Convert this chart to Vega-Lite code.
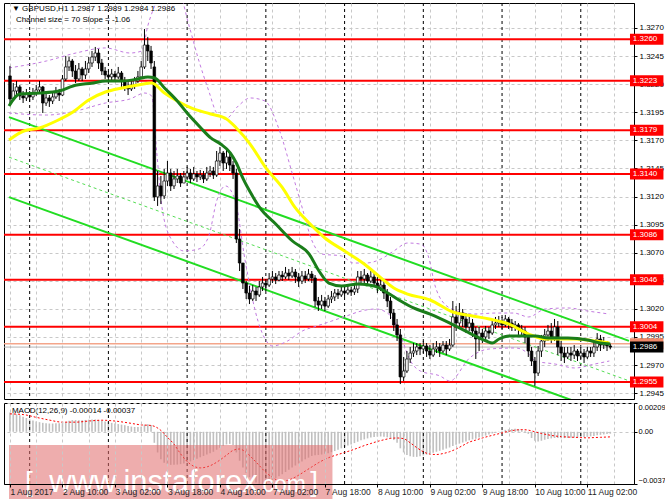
{
"$schema":"https://vega.github.io/schema/vega-lite/v6.json",
"background":"white",
"padding":{"left":2,"top":2,"right":0,"bottom":0},
"spacing":2,
"config":{"view":{"stroke":"black","strokeWidth":1},"font":"Liberation Sans","axis":{"labelFont":"Liberation Sans","labelFontSize":8,"labelColor":"black","domainColor":"black","tickColor":"black","gridColor":"#c8c8c8","gridDash":[3,3],"gridWidth":1}},
"datasets":{
"bars":[
{"i":0,"o":1.32273,"h":1.32362,"l":1.32006,"c":1.32068,"m":0.0014},
{"i":1,"o":1.32068,"h":1.32210,"l":1.32050,"c":1.32139,"m":0.00135},
{"i":2,"o":1.32139,"h":1.32228,"l":1.32095,"c":1.32175,"m":0.00128},
{"i":3,"o":1.32175,"h":1.32192,"l":1.32059,"c":1.32095,"m":0.0012},
{"i":4,"o":1.32095,"h":1.32139,"l":1.32032,"c":1.32077,"m":0.0011},
{"i":5,"o":1.32077,"h":1.32157,"l":1.32050,"c":1.32112,"m":0.001},
{"i":6,"o":1.32112,"h":1.32139,"l":1.32041,"c":1.32086,"m":0.0009},
{"i":7,"o":1.32086,"h":1.32166,"l":1.32059,"c":1.32121,"m":0.00082},
{"i":8,"o":1.32121,"h":1.32192,"l":1.32095,"c":1.32148,"m":0.00075},
{"i":9,"o":1.32148,"h":1.32228,"l":1.32121,"c":1.32175,"m":0.0007},
{"i":10,"o":1.32175,"h":1.32184,"l":1.31943,"c":1.32032,"m":0.00065},
{"i":11,"o":1.32032,"h":1.32139,"l":1.32006,"c":1.32077,"m":0.00062},
{"i":12,"o":1.32077,"h":1.32103,"l":1.31997,"c":1.32050,"m":0.0006},
{"i":13,"o":1.32050,"h":1.32121,"l":1.32023,"c":1.32086,"m":0.0006},
{"i":14,"o":1.32086,"h":1.32175,"l":1.32068,"c":1.32121,"m":0.00062},
{"i":15,"o":1.32121,"h":1.32157,"l":1.32050,"c":1.32103,"m":0.00062},
{"i":16,"o":1.32103,"h":1.32281,"l":1.32095,"c":1.32246,"m":0.00065},
{"i":17,"o":1.32246,"h":1.32451,"l":1.32228,"c":1.32353,"m":0.00072},
{"i":18,"o":1.32353,"h":1.32442,"l":1.32317,"c":1.32406,"m":0.0008},
{"i":19,"o":1.32406,"h":1.32424,"l":1.32264,"c":1.32317,"m":0.00085},
{"i":20,"o":1.32317,"h":1.32370,"l":1.32210,"c":1.32246,"m":0.00085},
{"i":21,"o":1.32246,"h":1.32388,"l":1.32228,"c":1.32335,"m":0.00083},
{"i":22,"o":1.32335,"h":1.32353,"l":1.32228,"c":1.32281,"m":0.00084},
{"i":23,"o":1.32281,"h":1.32406,"l":1.32246,"c":1.32335,"m":0.00086},
{"i":24,"o":1.32335,"h":1.32442,"l":1.32299,"c":1.32388,"m":0.00088},
{"i":25,"o":1.32388,"h":1.32495,"l":1.32353,"c":1.32442,"m":0.0009},
{"i":26,"o":1.32442,"h":1.32531,"l":1.32406,"c":1.32477,"m":0.0009},
{"i":27,"o":1.32477,"h":1.32513,"l":1.32335,"c":1.32388,"m":0.00086},
{"i":28,"o":1.32388,"h":1.32424,"l":1.32281,"c":1.32317,"m":0.0008},
{"i":29,"o":1.32317,"h":1.32353,"l":1.32246,"c":1.32281,"m":0.00075},
{"i":30,"o":1.32281,"h":1.32317,"l":1.32228,"c":1.32264,"m":0.0007},
{"i":31,"o":1.32264,"h":1.32335,"l":1.32237,"c":1.32290,"m":0.00065},
{"i":32,"o":1.32290,"h":1.32317,"l":1.32228,"c":1.32264,"m":0.0006},
{"i":33,"o":1.32264,"h":1.32353,"l":1.32246,"c":1.32299,"m":0.00056},
{"i":34,"o":1.32299,"h":1.32317,"l":1.32175,"c":1.32228,"m":0.00052},
{"i":35,"o":1.32228,"h":1.32264,"l":1.32139,"c":1.32175,"m":0.00048},
{"i":36,"o":1.32175,"h":1.32228,"l":1.32103,"c":1.32157,"m":0.00042},
{"i":37,"o":1.32157,"h":1.32228,"l":1.32139,"c":1.32192,"m":0.00038},
{"i":38,"o":1.32192,"h":1.32264,"l":1.32157,"c":1.32228,"m":0.00035},
{"i":39,"o":1.32228,"h":1.32317,"l":1.32210,"c":1.32264,"m":0.00034},
{"i":40,"o":1.32264,"h":1.32406,"l":1.32246,"c":1.32353,"m":0.00038},
{"i":41,"o":1.32353,"h":1.32691,"l":1.32335,"c":1.32548,"m":0.00052},
{"i":42,"o":1.32548,"h":1.32620,"l":1.32406,"c":1.32495,"m":0.00055},
{"i":43,"o":1.32495,"h":1.32540,"l":1.32335,"c":1.32388,"m":0.0005},
{"i":44,"o":1.32353,"h":1.32406,"l":1.31160,"c":1.31196,"m":-0.0008},
{"i":45,"o":1.31196,"h":1.31427,"l":1.31116,"c":1.31294,"m":-0.0015},
{"i":46,"o":1.31294,"h":1.31383,"l":1.31133,"c":1.31205,"m":-0.002},
{"i":47,"o":1.31205,"h":1.31445,"l":1.31178,"c":1.31338,"m":-0.00225},
{"i":48,"o":1.31338,"h":1.31516,"l":1.31294,"c":1.31409,"m":-0.00235},
{"i":49,"o":1.31409,"h":1.31445,"l":1.31249,"c":1.31294,"m":-0.0024},
{"i":50,"o":1.31294,"h":1.31427,"l":1.31267,"c":1.31356,"m":-0.0024},
{"i":51,"o":1.31356,"h":1.31445,"l":1.31320,"c":1.31383,"m":-0.00238},
{"i":52,"o":1.31383,"h":1.31409,"l":1.31285,"c":1.31320,"m":-0.00235},
{"i":53,"o":1.31320,"h":1.31427,"l":1.31320,"c":1.31374,"m":-0.0023},
{"i":54,"o":1.31374,"h":1.31463,"l":1.31356,"c":1.31409,"m":-0.00222},
{"i":55,"o":1.31409,"h":1.31445,"l":1.31320,"c":1.31356,"m":-0.00215},
{"i":56,"o":1.31356,"h":1.31463,"l":1.31338,"c":1.31400,"m":-0.00205},
{"i":57,"o":1.31400,"h":1.31427,"l":1.31329,"c":1.31374,"m":-0.00195},
{"i":58,"o":1.31374,"h":1.31436,"l":1.31347,"c":1.31391,"m":-0.00185},
{"i":59,"o":1.31391,"h":1.31427,"l":1.31320,"c":1.31356,"m":-0.00175},
{"i":60,"o":1.31356,"h":1.31463,"l":1.31338,"c":1.31409,"m":-0.00165},
{"i":61,"o":1.31409,"h":1.31472,"l":1.31374,"c":1.31427,"m":-0.00155},
{"i":62,"o":1.31427,"h":1.31463,"l":1.31356,"c":1.31391,"m":-0.00145},
{"i":63,"o":1.31391,"h":1.31605,"l":1.31374,"c":1.31516,"m":-0.0013},
{"i":64,"o":1.31516,"h":1.31641,"l":1.31472,"c":1.31587,"m":-0.00115},
{"i":65,"o":1.31587,"h":1.31605,"l":1.31427,"c":1.31498,"m":-0.00102},
{"i":66,"o":1.31498,"h":1.31623,"l":1.31445,"c":1.31552,"m":-0.00092},
{"i":67,"o":1.31552,"h":1.31587,"l":1.31427,"c":1.31480,"m":-0.00088},
{"i":68,"o":1.31480,"h":1.31516,"l":1.31356,"c":1.31409,"m":-0.00095},
{"i":69,"o":1.31409,"h":1.31445,"l":1.30786,"c":1.30822,"m":-0.0015},
{"i":70,"o":1.30822,"h":1.30911,"l":1.30537,"c":1.30608,"m":-0.0021},
{"i":71,"o":1.30608,"h":1.30608,"l":1.30377,"c":1.30430,"m":-0.0026},
{"i":72,"o":1.30430,"h":1.30448,"l":1.30288,"c":1.30341,"m":-0.003},
{"i":73,"o":1.30341,"h":1.30404,"l":1.30243,"c":1.30288,"m":-0.0033},
{"i":74,"o":1.30288,"h":1.30412,"l":1.30270,"c":1.30359,"m":-0.00352},
{"i":75,"o":1.30359,"h":1.30395,"l":1.30270,"c":1.30324,"m":-0.00368},
{"i":76,"o":1.30324,"h":1.30448,"l":1.30306,"c":1.30395,"m":-0.00378},
{"i":77,"o":1.30395,"h":1.30484,"l":1.30359,"c":1.30430,"m":-0.00379},
{"i":78,"o":1.30430,"h":1.30466,"l":1.30359,"c":1.30412,"m":-0.00372},
{"i":79,"o":1.30412,"h":1.30519,"l":1.30395,"c":1.30466,"m":-0.00362},
{"i":80,"o":1.30466,"h":1.30537,"l":1.30430,"c":1.30484,"m":-0.0035},
{"i":81,"o":1.30484,"h":1.30519,"l":1.30421,"c":1.30457,"m":-0.00336},
{"i":82,"o":1.30457,"h":1.30537,"l":1.30448,"c":1.30501,"m":-0.00322},
{"i":83,"o":1.30501,"h":1.30537,"l":1.30448,"c":1.30484,"m":-0.00308},
{"i":84,"o":1.30484,"h":1.30573,"l":1.30466,"c":1.30519,"m":-0.00292},
{"i":85,"o":1.30519,"h":1.30555,"l":1.30457,"c":1.30493,"m":-0.00276},
{"i":86,"o":1.30493,"h":1.30573,"l":1.30475,"c":1.30528,"m":-0.0026},
{"i":87,"o":1.30528,"h":1.30555,"l":1.30430,"c":1.30484,"m":-0.00245},
{"i":88,"o":1.30484,"h":1.30519,"l":1.30395,"c":1.30448,"m":-0.0023},
{"i":89,"o":1.30448,"h":1.30537,"l":1.30421,"c":1.30493,"m":-0.00215},
{"i":90,"o":1.30493,"h":1.30537,"l":1.30430,"c":1.30466,"m":-0.002},
{"i":91,"o":1.30466,"h":1.30555,"l":1.30448,"c":1.30510,"m":-0.00188},
{"i":92,"o":1.30510,"h":1.30537,"l":1.30430,"c":1.30475,"m":-0.00175},
{"i":93,"o":1.30475,"h":1.30501,"l":1.30216,"c":1.30270,"m":-0.0017},
{"i":94,"o":1.30270,"h":1.30306,"l":1.30181,"c":1.30234,"m":-0.00168},
{"i":95,"o":1.30234,"h":1.30324,"l":1.30199,"c":1.30270,"m":-0.00165},
{"i":96,"o":1.30270,"h":1.30306,"l":1.30181,"c":1.30225,"m":-0.0016},
{"i":97,"o":1.30225,"h":1.30324,"l":1.30208,"c":1.30288,"m":-0.00155},
{"i":98,"o":1.30288,"h":1.30359,"l":1.30252,"c":1.30306,"m":-0.00148},
{"i":99,"o":1.30306,"h":1.30377,"l":1.30270,"c":1.30341,"m":-0.0014},
{"i":100,"o":1.30341,"h":1.30377,"l":1.30288,"c":1.30324,"m":-0.0013},
{"i":101,"o":1.30324,"h":1.30395,"l":1.30306,"c":1.30359,"m":-0.0012},
{"i":102,"o":1.30359,"h":1.30395,"l":1.30306,"c":1.30341,"m":-0.0011},
{"i":103,"o":1.30341,"h":1.30412,"l":1.30324,"c":1.30368,"m":-0.001},
{"i":104,"o":1.30368,"h":1.30395,"l":1.30315,"c":1.30350,"m":-0.00092},
{"i":105,"o":1.30350,"h":1.30412,"l":1.30324,"c":1.30377,"m":-0.00082},
{"i":106,"o":1.30377,"h":1.30537,"l":1.30341,"c":1.30484,"m":-0.00072},
{"i":107,"o":1.30484,"h":1.30537,"l":1.30412,"c":1.30466,"m":-0.00062},
{"i":108,"o":1.30466,"h":1.30555,"l":1.30430,"c":1.30501,"m":-0.00055},
{"i":109,"o":1.30501,"h":1.30519,"l":1.30412,"c":1.30448,"m":-0.00048},
{"i":110,"o":1.30448,"h":1.30537,"l":1.30430,"c":1.30484,"m":-0.00042},
{"i":111,"o":1.30484,"h":1.30519,"l":1.30395,"c":1.30430,"m":-0.00038},
{"i":112,"o":1.30430,"h":1.30484,"l":1.30341,"c":1.30395,"m":-0.00035},
{"i":113,"o":1.30395,"h":1.30466,"l":1.30359,"c":1.30412,"m":-0.00034},
{"i":114,"o":1.30412,"h":1.30448,"l":1.30288,"c":1.30341,"m":-0.00036},
{"i":115,"o":1.30341,"h":1.30377,"l":1.30216,"c":1.30270,"m":-0.0004},
{"i":116,"o":1.30270,"h":1.30306,"l":1.30110,"c":1.30163,"m":-0.00048},
{"i":117,"o":1.30163,"h":1.30199,"l":1.30003,"c":1.30057,"m":-0.0006},
{"i":118,"o":1.30057,"h":1.30110,"l":1.29914,"c":1.29968,"m":-0.0008},
{"i":119,"o":1.29968,"h":1.30021,"l":1.29531,"c":1.29594,"m":-0.0012},
{"i":120,"o":1.29594,"h":1.29772,"l":1.29558,"c":1.29647,"m":-0.0015},
{"i":121,"o":1.29647,"h":1.29825,"l":1.29629,"c":1.29754,"m":-0.00168},
{"i":122,"o":1.29754,"h":1.29861,"l":1.29718,"c":1.29807,"m":-0.00178},
{"i":123,"o":1.29807,"h":1.29896,"l":1.29772,"c":1.29825,"m":-0.00182},
{"i":124,"o":1.29825,"h":1.29896,"l":1.29789,"c":1.29861,"m":-0.00182},
{"i":125,"o":1.29861,"h":1.29896,"l":1.29789,"c":1.29843,"m":-0.00178},
{"i":126,"o":1.29843,"h":1.29914,"l":1.29807,"c":1.29870,"m":-0.00172},
{"i":127,"o":1.29870,"h":1.29896,"l":1.29772,"c":1.29825,"m":-0.00166},
{"i":128,"o":1.29825,"h":1.29878,"l":1.29754,"c":1.29789,"m":-0.0016},
{"i":129,"o":1.29789,"h":1.29896,"l":1.29772,"c":1.29843,"m":-0.00152},
{"i":130,"o":1.29843,"h":1.29914,"l":1.29807,"c":1.29861,"m":-0.00145},
{"i":131,"o":1.29861,"h":1.29896,"l":1.29772,"c":1.29825,"m":-0.00138},
{"i":132,"o":1.29825,"h":1.29914,"l":1.29807,"c":1.29878,"m":-0.0013},
{"i":133,"o":1.29878,"h":1.29914,"l":1.29789,"c":1.29843,"m":-0.00122},
{"i":134,"o":1.29843,"h":1.29932,"l":1.29825,"c":1.29878,"m":-0.00114},
{"i":135,"o":1.29878,"h":1.30270,"l":1.29861,"c":1.30128,"m":-0.00104},
{"i":136,"o":1.30128,"h":1.30225,"l":1.30003,"c":1.30074,"m":-0.00094},
{"i":137,"o":1.30074,"h":1.30252,"l":1.30021,"c":1.30163,"m":-0.00086},
{"i":138,"o":1.30163,"h":1.30199,"l":1.30039,"c":1.30110,"m":-0.00078},
{"i":139,"o":1.30110,"h":1.30163,"l":1.29985,"c":1.30039,"m":-0.0007},
{"i":140,"o":1.30039,"h":1.30137,"l":1.30003,"c":1.30074,"m":-0.00062},
{"i":141,"o":1.30074,"h":1.30110,"l":1.29950,"c":1.30003,"m":-0.00055},
{"i":142,"o":1.30003,"h":1.30039,"l":1.29754,"c":1.29932,"m":-0.0005},
{"i":143,"o":1.29932,"h":1.30039,"l":1.29825,"c":1.29985,"m":-0.00042},
{"i":144,"o":1.29985,"h":1.30021,"l":1.29896,"c":1.29950,"m":-0.00035},
{"i":145,"o":1.29950,"h":1.30048,"l":1.29914,"c":1.30003,"m":-0.00028},
{"i":146,"o":1.30003,"h":1.30039,"l":1.29932,"c":1.29985,"m":-0.0002},
{"i":147,"o":1.29985,"h":1.30110,"l":1.29968,"c":1.30057,"m":-0.00012},
{"i":148,"o":1.30057,"h":1.30128,"l":1.30021,"c":1.30074,"m":-0.00005},
{"i":149,"o":1.30074,"h":1.30137,"l":1.30039,"c":1.30092,"m":0.00002},
{"i":150,"o":1.30092,"h":1.30128,"l":1.30021,"c":1.30057,"m":0.00008},
{"i":151,"o":1.30057,"h":1.30146,"l":1.30039,"c":1.30110,"m":0.00014},
{"i":152,"o":1.30110,"h":1.30128,"l":1.30021,"c":1.30074,"m":0.00018},
{"i":153,"o":1.30074,"h":1.30110,"l":1.30003,"c":1.30039,"m":0.0002},
{"i":154,"o":1.30039,"h":1.30092,"l":1.30003,"c":1.30057,"m":0.00022},
{"i":155,"o":1.30057,"h":1.30074,"l":1.29968,"c":1.30021,"m":0.0002},
{"i":156,"o":1.30021,"h":1.30057,"l":1.29950,"c":1.30003,"m":0.00015},
{"i":157,"o":1.30003,"h":1.30039,"l":1.29896,"c":1.29950,"m":0.00008},
{"i":158,"o":1.29950,"h":1.29968,"l":1.29772,"c":1.29825,"m":-0.00015},
{"i":159,"o":1.29825,"h":1.29861,"l":1.29692,"c":1.29736,"m":-0.00045},
{"i":160,"o":1.29736,"h":1.29772,"l":1.29514,"c":1.29629,"m":-0.00065},
{"i":161,"o":1.29629,"h":1.29870,"l":1.29603,"c":1.29825,"m":-0.0007},
{"i":162,"o":1.29825,"h":1.29968,"l":1.29772,"c":1.29914,"m":-0.00065},
{"i":163,"o":1.29914,"h":1.30021,"l":1.29861,"c":1.29968,"m":-0.00058},
{"i":164,"o":1.29968,"h":1.30057,"l":1.29914,"c":1.30003,"m":-0.00052},
{"i":165,"o":1.30003,"h":1.30074,"l":1.29896,"c":1.29950,"m":-0.00048},
{"i":166,"o":1.29950,"h":1.30110,"l":1.29914,"c":1.30039,"m":-0.00045},
{"i":167,"o":1.30039,"h":1.30092,"l":1.29789,"c":1.29861,"m":-0.00045},
{"i":168,"o":1.29861,"h":1.29914,"l":1.29736,"c":1.29807,"m":-0.00046},
{"i":169,"o":1.29807,"h":1.29861,"l":1.29718,"c":1.29772,"m":-0.00046},
{"i":170,"o":1.29772,"h":1.29861,"l":1.29754,"c":1.29807,"m":-0.00045},
{"i":171,"o":1.29807,"h":1.29861,"l":1.29736,"c":1.29789,"m":-0.00044},
{"i":172,"o":1.29789,"h":1.29878,"l":1.29754,"c":1.29825,"m":-0.00042},
{"i":173,"o":1.29825,"h":1.29843,"l":1.29736,"c":1.29781,"m":-0.00041},
{"i":174,"o":1.29781,"h":1.29861,"l":1.29754,"c":1.29807,"m":-0.0004},
{"i":175,"o":1.29807,"h":1.29843,"l":1.29718,"c":1.29772,"m":-0.00038},
{"i":176,"o":1.29772,"h":1.29861,"l":1.29754,"c":1.29825,"m":-0.00036},
{"i":177,"o":1.29825,"h":1.29861,"l":1.29772,"c":1.29807,"m":-0.00033},
{"i":178,"o":1.29807,"h":1.29896,"l":1.29772,"c":1.29861,"m":-0.0003},
{"i":179,"o":1.29861,"h":1.29985,"l":1.29825,"c":1.29932,"m":-0.00026},
{"i":180,"o":1.29932,"h":1.29968,"l":1.29825,"c":1.29878,"m":-0.00022},
{"i":181,"o":1.29878,"h":1.29950,"l":1.29843,"c":1.29896,"m":-0.00019},
{"i":182,"o":1.29896,"h":1.29914,"l":1.29825,"c":1.29870,"m":-0.00016},
{"i":183,"o":1.29870,"h":1.29890,"l":1.29840,"c":1.29860,"m":-0.00014}
],
"sig":[
{"i":0,"s":0.0013},{"i":4,"s":0.00125},{"i":8,"s":0.00105},{"i":12,"s":0.00085},{"i":16,"s":0.0007},{"i":20,"s":0.0007},{"i":24,"s":0.00078},{"i":28,"s":0.00084},{"i":32,"s":0.00078},{"i":36,"s":0.00065},{"i":40,"s":0.0005},{"i":43,"s":0.00046},{"i":46,"s":0.0001},{"i":48,"s":-0.0004},{"i":50,"s":-0.0009},{"i":52,"s":-0.0016},{"i":54,"s":-0.00215},{"i":56,"s":-0.0025},{"i":58,"s":-0.00262},{"i":60,"s":-0.00255},{"i":62,"s":-0.00235},{"i":64,"s":-0.00205},{"i":66,"s":-0.0017},{"i":68,"s":-0.00135},{"i":70,"s":-0.00125},{"i":72,"s":-0.0015},{"i":74,"s":-0.00195},{"i":76,"s":-0.00245},{"i":78,"s":-0.00295},{"i":80,"s":-0.0033},{"i":82,"s":-0.00355},{"i":84,"s":-0.00355},{"i":86,"s":-0.0034},{"i":88,"s":-0.00315},{"i":90,"s":-0.00285},{"i":92,"s":-0.00255},{"i":94,"s":-0.00225},{"i":96,"s":-0.002},{"i":98,"s":-0.0018},{"i":100,"s":-0.00165},{"i":102,"s":-0.0015},{"i":104,"s":-0.00135},{"i":106,"s":-0.00118},{"i":108,"s":-0.001},{"i":110,"s":-0.00085},{"i":112,"s":-0.0007},{"i":114,"s":-0.00058},{"i":116,"s":-0.00048},{"i":118,"s":-0.00045},{"i":120,"s":-0.0005},{"i":122,"s":-0.0008},{"i":124,"s":-0.00115},{"i":126,"s":-0.00145},{"i":128,"s":-0.00162},{"i":130,"s":-0.00165},{"i":132,"s":-0.00158},{"i":134,"s":-0.00145},{"i":136,"s":-0.00125},{"i":138,"s":-0.001},{"i":140,"s":-0.00075},{"i":142,"s":-0.0006},{"i":144,"s":-0.00045},{"i":146,"s":-0.00032},{"i":148,"s":-0.0002},{"i":150,"s":-0.00008},{"i":152,"s":0.00004},{"i":154,"s":0.00012},{"i":156,"s":0.00016},{"i":158,"s":0.00012},{"i":160,"s":0},{"i":162,"s":-0.00012},{"i":164,"s":-0.00022},{"i":166,"s":-0.0003},{"i":168,"s":-0.00035},{"i":170,"s":-0.00038},{"i":172,"s":-0.0004},{"i":174,"s":-0.00042},{"i":176,"s":-0.00044},{"i":178,"s":-0.00042},{"i":180,"s":-0.0004},{"i":182,"s":-0.00038},{"i":183,"s":-0.00037}
],
"ma":[
{"ma":"yellow","i":-0.3,"p":1.31703},{"ma":"yellow","i":4.2,"p":1.31783},{"ma":"yellow","i":9.0,"p":1.31810},{"ma":"yellow","i":14.1,"p":1.31872},{"ma":"yellow","i":19.2,"p":1.31952},{"ma":"yellow","i":24.0,"p":1.32059},{"ma":"yellow","i":29.1,"p":1.32130},{"ma":"yellow","i":34.2,"p":1.32166},{"ma":"yellow","i":39.0,"p":1.32192},{"ma":"yellow","i":43.2,"p":1.32210},{"ma":"yellow","i":47.1,"p":1.32121},{"ma":"yellow","i":51.0,"p":1.32050},{"ma":"yellow","i":55.2,"p":1.31988},{"ma":"yellow","i":61.2,"p":1.31934},{"ma":"yellow","i":66.0,"p":1.31890},{"ma":"yellow","i":69.0,"p":1.31810},{"ma":"yellow","i":73.2,"p":1.31667},{"ma":"yellow","i":78.0,"p":1.31454},{"ma":"yellow","i":83.1,"p":1.31276},{"ma":"yellow","i":87.0,"p":1.31098},{"ma":"yellow","i":91.2,"p":1.30964},{"ma":"yellow","i":96.0,"p":1.30831},{"ma":"yellow","i":102.0,"p":1.30715},{"ma":"yellow","i":108.0,"p":1.30599},{"ma":"yellow","i":113.1,"p":1.30475},{"ma":"yellow","i":117.0,"p":1.30386},{"ma":"yellow","i":121.2,"p":1.30332},{"ma":"yellow","i":128.1,"p":1.30279},{"ma":"yellow","i":135.0,"p":1.30172},{"ma":"yellow","i":141.0,"p":1.30137},{"ma":"yellow","i":146.1,"p":1.30110},{"ma":"yellow","i":152.1,"p":1.30065},{"ma":"yellow","i":158.1,"p":1.29976},{"ma":"yellow","i":163.2,"p":1.29932},{"ma":"yellow","i":172.2,"p":1.29932},{"ma":"yellow","i":178.2,"p":1.29914},{"ma":"yellow","i":182.7,"p":1.29896},
{"ma":"green","i":-0.3,"p":1.32006},{"ma":"green","i":3.0,"p":1.32112},{"ma":"green","i":9.0,"p":1.32121},{"ma":"green","i":15.0,"p":1.32139},{"ma":"green","i":19.2,"p":1.32184},{"ma":"green","i":25.2,"p":1.32210},{"ma":"green","i":29.1,"p":1.32228},{"ma":"green","i":34.2,"p":1.32228},{"ma":"green","i":39.0,"p":1.32246},{"ma":"green","i":42.0,"p":1.32264},{"ma":"green","i":44.1,"p":1.32255},{"ma":"green","i":47.1,"p":1.32166},{"ma":"green","i":51.0,"p":1.32050},{"ma":"green","i":54.0,"p":1.31943},{"ma":"green","i":58.2,"p":1.31810},{"ma":"green","i":61.2,"p":1.31721},{"ma":"green","i":64.2,"p":1.31667},{"ma":"green","i":67.2,"p":1.31587},{"ma":"green","i":69.0,"p":1.31498},{"ma":"green","i":71.1,"p":1.31356},{"ma":"green","i":74.1,"p":1.31196},{"ma":"green","i":76.2,"p":1.31098},{"ma":"green","i":81.0,"p":1.30955},{"ma":"green","i":86.1,"p":1.30804},{"ma":"green","i":91.2,"p":1.30688},{"ma":"green","i":94.2,"p":1.30537},{"ma":"green","i":97.2,"p":1.30430},{"ma":"green","i":101.1,"p":1.30404},{"ma":"green","i":106.2,"p":1.30421},{"ma":"green","i":111.0,"p":1.30404},{"ma":"green","i":115.2,"p":1.30341},{"ma":"green","i":119.1,"p":1.30270},{"ma":"green","i":123.0,"p":1.30208},{"ma":"green","i":128.1,"p":1.30154},{"ma":"green","i":134.1,"p":1.30074},{"ma":"green","i":140.1,"p":1.29985},{"ma":"green","i":145.2,"p":1.29914},{"ma":"green","i":147.0,"p":1.29896},{"ma":"green","i":149.1,"p":1.29932},{"ma":"green","i":152.1,"p":1.29958},{"ma":"green","i":156.0,"p":1.29958},{"ma":"green","i":160.2,"p":1.29958},{"ma":"green","i":164.1,"p":1.29941},{"ma":"green","i":170.1,"p":1.29941},{"ma":"green","i":176.1,"p":1.29923},{"ma":"green","i":180.0,"p":1.29896},{"ma":"green","i":183.0,"p":1.29887}
],
"bands":[
{"b":"upper","i":-0.3,"p":1.32344},{"b":"upper","i":11.1,"p":1.32406},{"b":"upper","i":20.1,"p":1.32477},{"b":"upper","i":29.1,"p":1.32522},{"b":"upper","i":36.6,"p":1.32477},{"b":"upper","i":40.2,"p":1.32495},{"b":"upper","i":42.0,"p":1.32718},{"b":"upper","i":44.1,"p":1.32896},{"b":"upper","i":47.1,"p":1.33074},{"b":"upper","i":50.7,"p":1.33074},{"b":"upper","i":54.6,"p":1.32718},{"b":"upper","i":57.6,"p":1.32406},{"b":"upper","i":60.6,"p":1.32139},{"b":"upper","i":63.0,"p":1.31943},{"b":"upper","i":65.7,"p":1.31890},{"b":"upper","i":69.6,"p":1.32006},{"b":"upper","i":73.2,"p":1.32077},{"b":"upper","i":77.7,"p":1.32050},{"b":"upper","i":82.2,"p":1.31783},{"b":"upper","i":86.1,"p":1.31400},{"b":"upper","i":89.1,"p":1.31098},{"b":"upper","i":92.1,"p":1.30804},{"b":"upper","i":95.1,"p":1.30688},{"b":"upper","i":101.1,"p":1.30671},{"b":"upper","i":104.7,"p":1.30608},{"b":"upper","i":108.6,"p":1.30608},{"b":"upper","i":113.1,"p":1.30644},{"b":"upper","i":117.0,"p":1.30715},{"b":"upper","i":121.2,"p":1.30786},{"b":"upper","i":125.1,"p":1.30777},{"b":"upper","i":127.5,"p":1.30671},{"b":"upper","i":129.6,"p":1.30404},{"b":"upper","i":131.7,"p":1.30270},{"b":"upper","i":136.2,"p":1.30181},{"b":"upper","i":141.6,"p":1.30154},{"b":"upper","i":148.2,"p":1.30163},{"b":"upper","i":153.6,"p":1.30163},{"b":"upper","i":158.1,"p":1.30128},{"b":"upper","i":163.2,"p":1.30199},{"b":"upper","i":170.1,"p":1.30208},{"b":"upper","i":176.1,"p":1.30181},{"b":"upper","i":182.7,"p":1.30154},
{"b":"lower","i":-0.3,"p":1.31943},{"b":"lower","i":11.1,"p":1.31925},{"b":"lower","i":20.1,"p":1.31961},{"b":"lower","i":29.1,"p":1.32032},{"b":"lower","i":36.6,"p":1.32068},{"b":"lower","i":41.1,"p":1.32121},{"b":"lower","i":43.2,"p":1.32095},{"b":"lower","i":44.7,"p":1.31605},{"b":"lower","i":46.5,"p":1.31071},{"b":"lower","i":49.5,"p":1.30804},{"b":"lower","i":53.1,"p":1.30715},{"b":"lower","i":57.6,"p":1.30733},{"b":"lower","i":60.6,"p":1.30848},{"b":"lower","i":63.0,"p":1.31160},{"b":"lower","i":65.7,"p":1.31294},{"b":"lower","i":68.7,"p":1.31160},{"b":"lower","i":71.7,"p":1.30626},{"b":"lower","i":75.6,"p":1.30092},{"b":"lower","i":80.1,"p":1.29870},{"b":"lower","i":84.6,"p":1.29914},{"b":"lower","i":89.1,"p":1.30003},{"b":"lower","i":93.6,"p":1.30048},{"b":"lower","i":98.1,"p":1.30092},{"b":"lower","i":102.6,"p":1.30137},{"b":"lower","i":107.1,"p":1.30181},{"b":"lower","i":111.6,"p":1.30199},{"b":"lower","i":116.1,"p":1.30137},{"b":"lower","i":119.1,"p":1.29959},{"b":"lower","i":122.1,"p":1.29736},{"b":"lower","i":125.1,"p":1.29647},{"b":"lower","i":131.1,"p":1.29603},{"b":"lower","i":134.1,"p":1.29558},{"b":"lower","i":140.1,"p":1.29763},{"b":"lower","i":146.1,"p":1.29843},{"b":"lower","i":154.2,"p":1.29852},{"b":"lower","i":158.1,"p":1.29799},{"b":"lower","i":160.2,"p":1.29736},{"b":"lower","i":166.2,"p":1.29709},{"b":"lower","i":172.2,"p":1.29674},{"b":"lower","i":178.2,"p":1.29709},{"b":"lower","i":182.7,"p":1.29736}
],
"chan":[
{"line":"upper","i":-0.3,"p":1.31906},{"line":"upper","i":188.7,"p":1.29915},
{"line":"lower","i":-0.3,"p":1.31195},{"line":"lower","i":188.7,"p":1.29204},
{"line":"mid","i":-0.3,"p":1.31550},{"line":"mid","i":188.7,"p":1.29560}
],
"levels":[{"p":1.326},{"p":1.3223},{"p":1.3179},{"p":1.314},{"p":1.3086},{"p":1.3046},{"p":1.3004},{"p":1.2955}],
"quote":[{"bid":1.2986,"ask":1.2989}],
"sep":[{"i":6},{"i":30},{"i":54},{"i":78},{"i":102},{"i":126},{"i":150},{"i":174}]
},
"vconcat":[
{
"width":630,"height":396,
"resolve":{"axis":{"x":"independent","y":"independent"}},
"layer":[
{"data":{"name":"bars"},"mark":{"type":"rule","opacity":0},
 "encoding":{"x":{"field":"i","type":"quantitative","scale":{"domain":[-0.3,188.7],"nice":false,"zero":false},"axis":{"orient":"bottom","values":[0,8,16,24,32,40,48,56,64,72,80,88,96,104,112,120,128,136,144,152,160,168,176,184],"grid":true,"labels":false,"ticks":false,"domain":false,"title":null}},
 "y":{"field":"l","type":"quantitative","scale":{"domain":[1.29398,1.32922],"nice":false,"zero":false},"axis":{"orient":"right","values":[1.2945,1.297,1.2995,1.302,1.3045,1.307,1.3095,1.312,1.3145,1.317,1.3195,1.322,1.3245,1.327],"format":".4f","grid":true,"labels":true,"ticks":true,"domain":true,"tickSize":3,"labelPadding":2,"labelOverlap":false,"labelFlush":false,"title":null}},"y2":{"field":"h"}}},
{"data":{"name":"sep"},"mark":{"type":"rule","color":"black","strokeDash":[3,3],"strokeWidth":1},
 "encoding":{"x":{"field":"i","type":"quantitative","scale":{"domain":[-0.3,188.7],"nice":false,"zero":false},"axis":null}}},
{"data":{"name":"levels"},"mark":{"type":"rule","color":"#ff0000","strokeWidth":2},
 "encoding":{"y":{"field":"p","type":"quantitative","scale":{"domain":[1.29398,1.32922],"nice":false,"zero":false},"axis":null}}},
{"data":{"name":"quote"},"mark":{"type":"rule","color":"#f4a58a","strokeWidth":1.5},
 "encoding":{"y":{"field":"ask","type":"quantitative","scale":{"domain":[1.29398,1.32922],"nice":false,"zero":false},"axis":null}}},
{"data":{"name":"quote"},"mark":{"type":"rule","color":"#b4b4b4","strokeWidth":1},
 "encoding":{"y":{"field":"bid","type":"quantitative","scale":{"domain":[1.29398,1.32922],"nice":false,"zero":false},"axis":null}}},
{"data":{"name":"chan"},"transform":[{"filter":"datum.line != 'mid'"}],"mark":{"type":"line","color":"#22dd22","strokeWidth":2,"clip":true},
 "encoding":{"x":{"field":"i","type":"quantitative","scale":{"domain":[-0.3,188.7],"nice":false,"zero":false},"axis":null},"y":{"field":"p","type":"quantitative","scale":{"domain":[1.29398,1.32922],"nice":false,"zero":false},"axis":null},"detail":{"field":"line"}}},
{"data":{"name":"chan"},"transform":[{"filter":"datum.line == 'mid'"}],"mark":{"type":"line","color":"#55dd55","strokeWidth":1,"strokeDash":[3,3],"clip":true},
 "encoding":{"x":{"field":"i","type":"quantitative","scale":{"domain":[-0.3,188.7],"nice":false,"zero":false},"axis":null},"y":{"field":"p","type":"quantitative","scale":{"domain":[1.29398,1.32922],"nice":false,"zero":false},"axis":null}}},
{"data":{"name":"bands"},"mark":{"type":"line","color":"#c27ae0","strokeWidth":1,"strokeDash":[3,3],"interpolate":"monotone","clip":true},
 "encoding":{"x":{"field":"i","type":"quantitative","scale":{"domain":[-0.3,188.7],"nice":false,"zero":false},"axis":null},"y":{"field":"p","type":"quantitative","scale":{"domain":[1.29398,1.32922],"nice":false,"zero":false},"axis":null},"detail":{"field":"b"}}},
{"data":{"name":"bars"},"mark":{"type":"rule","color":"black","strokeWidth":1},
 "encoding":{"x":{"field":"i","type":"quantitative","scale":{"domain":[-0.3,188.7],"nice":false,"zero":false},"axis":null},"y":{"field":"l","type":"quantitative","scale":{"domain":[1.29398,1.32922],"nice":false,"zero":false},"axis":null},"y2":{"field":"h"}}},
{"data":{"name":"bars"},"mark":{"type":"bar","size":2.6,"stroke":"black","strokeWidth":0.7},
 "encoding":{"x":{"field":"i","type":"quantitative","scale":{"domain":[-0.3,188.7],"nice":false,"zero":false},"axis":null},"y":{"field":"o","type":"quantitative","scale":{"domain":[1.29398,1.32922],"nice":false,"zero":false},"axis":null},"y2":{"field":"c"},
 "fill":{"condition":{"test":"datum.c >= datum.o","value":"white"},"value":"black"}}},
{"data":{"name":"ma"},"transform":[{"filter":"datum.ma == 'yellow'"}],"mark":{"type":"line","color":"#ffff00","strokeWidth":3,"interpolate":"monotone"},
 "encoding":{"x":{"field":"i","type":"quantitative","scale":{"domain":[-0.3,188.7],"nice":false,"zero":false},"axis":null},"y":{"field":"p","type":"quantitative","scale":{"domain":[1.29398,1.32922],"nice":false,"zero":false},"axis":null}}},
{"data":{"name":"ma"},"transform":[{"filter":"datum.ma == 'green'"}],"mark":{"type":"line","color":"#1a7d1a","strokeWidth":3,"interpolate":"monotone"},
 "encoding":{"x":{"field":"i","type":"quantitative","scale":{"domain":[-0.3,188.7],"nice":false,"zero":false},"axis":null},"y":{"field":"p","type":"quantitative","scale":{"domain":[1.29398,1.32922],"nice":false,"zero":false},"axis":null}}},
{"data":{"name":"levels"},"mark":{"type":"rule","color":"#ff0000","strokeWidth":11,"strokeCap":"butt"},
 "encoding":{"x":{"datum":189.0,"type":"quantitative","scale":{"domain":[-0.3,188.7],"nice":false,"zero":false},"axis":null},"x2":{"datum":199.2},"y":{"field":"p","type":"quantitative","scale":{"domain":[1.29398,1.32922],"nice":false,"zero":false},"axis":null}}},
{"data":{"name":"levels"},"mark":{"type":"text","color":"white","fontSize":8,"align":"center","baseline":"middle","font":"Liberation Sans"},
 "encoding":{"x":{"datum":193.6,"type":"quantitative","scale":{"domain":[-0.3,188.7],"nice":false,"zero":false},"axis":null},"y":{"field":"p","type":"quantitative","scale":{"domain":[1.29398,1.32922],"nice":false,"zero":false},"axis":null},"text":{"field":"p","format":".4f"}}},
{"data":{"name":"quote"},"mark":{"type":"rule","color":"#f08a6a","strokeWidth":11,"strokeCap":"butt"},
 "encoding":{"x":{"datum":189.0,"type":"quantitative","scale":{"domain":[-0.3,188.7],"nice":false,"zero":false},"axis":null},"x2":{"datum":199.2},"y":{"field":"ask","type":"quantitative","scale":{"domain":[1.29398,1.32922],"nice":false,"zero":false},"axis":null}}},
{"data":{"name":"quote"},"mark":{"type":"rule","color":"black","strokeWidth":11,"strokeCap":"butt"},
 "encoding":{"x":{"datum":189.0,"type":"quantitative","scale":{"domain":[-0.3,188.7],"nice":false,"zero":false},"axis":null},"x2":{"datum":199.2},"y":{"field":"bid","type":"quantitative","scale":{"domain":[1.29398,1.32922],"nice":false,"zero":false},"axis":null}}},
{"data":{"name":"quote"},"mark":{"type":"text","color":"white","fontSize":8,"align":"center","baseline":"middle","font":"Liberation Sans"},
 "encoding":{"x":{"datum":193.6,"type":"quantitative","scale":{"domain":[-0.3,188.7],"nice":false,"zero":false},"axis":null},"y":{"field":"bid","type":"quantitative","scale":{"domain":[1.29398,1.32922],"nice":false,"zero":false},"axis":null},"text":{"field":"bid","format":".4f"}}},
{"data":{"values":[{"t":"▼ GBPUSD,H1  1.2987 1.2989 1.2984 1.2986","i":0.6,"p":1.32869},{"t":"Channel size = 70 Slope = -1.06","i":1.8,"p":1.32771}]},"mark":{"type":"text","color":"black","fontSize":8,"align":"left","baseline":"middle","font":"Liberation Sans"},
 "encoding":{"x":{"field":"i","type":"quantitative","scale":{"domain":[-0.3,188.7],"nice":false,"zero":false},"axis":null},"y":{"field":"p","type":"quantitative","scale":{"domain":[1.29398,1.32922],"nice":false,"zero":false},"axis":null},"text":{"field":"t"}}}
]
},
{
"width":630,"height":81,
"resolve":{"axis":{"x":"independent","y":"independent"}},
"layer":[
{"data":{"name":"bars"},"mark":{"type":"bar","size":1.6,"color":"#c0c0c0"},
 "encoding":{"x":{"field":"i","type":"quantitative","scale":{"domain":[-0.3,188.7],"nice":false,"zero":false},"axis":{"orient":"bottom","zindex":1,"values":[0,8,16,24,32,40,48,56,64,72,80,88,96,104,112,120,128,136,144,152,160,168,176,184],"grid":true,"labels":true,"labelExpr":"datum.value % 16 == 0 ? ['1 Aug 2017','2 Aug 10:00','3 Aug 02:00','3 Aug 18:00','4 Aug 10:00','7 Aug 02:00','7 Aug 18:00','8 Aug 10:00','9 Aug 02:00','9 Aug 18:00','10 Aug 10:00','11 Aug 02:00'][datum.value/16] : ''","labelAlign":"left","labelBaseline":"top","labelFontSize":8.5,"labelColor":"#222222","labelPadding":0,"labelOverlap":false,"labelFlush":false,"tickSize":3,"tickOpacity":{"condition":{"test":"datum.value % 16 != 0","value":0},"value":1},"domain":true,"title":null}},
 "y":{"field":"m","type":"quantitative","scale":{"domain":[-0.00379,0.00209],"nice":false,"zero":false},"axis":{"orient":"right","values":[0.00209,0,-0.00379],"labelExpr":"datum.value == 0 ? '0.00' : format(datum.value, '.5f')","grid":true,"labels":true,"labelFontSize":7.5,"tickSize":3,"labelPadding":1,"labelOverlap":false,"labelFlush":true,"title":null}},"y2":{"datum":0}}},
{"data":{"name":"sep"},"mark":{"type":"rule","color":"black","strokeDash":[3,3],"strokeWidth":1},
 "encoding":{"x":{"field":"i","type":"quantitative","scale":{"domain":[-0.3,188.7],"nice":false,"zero":false},"axis":null}}},
{"data":{"name":"sig"},"mark":{"type":"line","color":"#ff0000","strokeWidth":1,"strokeDash":[2,2],"interpolate":"monotone"},
 "encoding":{"x":{"field":"i","type":"quantitative","scale":{"domain":[-0.3,188.7],"nice":false,"zero":false},"axis":null},"y":{"field":"s","type":"quantitative","scale":{"domain":[-0.00379,0.00209],"nice":false,"zero":false},"axis":null}}},
{"data":{"values":[{"t":"MACD(12,26,9) -0.00014 -0.00037","i":0.6,"v":0.0015}]},"mark":{"type":"text","color":"black","fontSize":8,"align":"left","baseline":"middle","font":"Liberation Sans"},
 "encoding":{"x":{"field":"i","type":"quantitative","scale":{"domain":[-0.3,188.7],"nice":false,"zero":false},"axis":null},"y":{"field":"v","type":"quantitative","scale":{"domain":[-0.00379,0.00209],"nice":false,"zero":false},"axis":null},"text":{"field":"t"}}},
{"data":{"values":[{"x1":-0.3,"x2":98.3,"y1":-0.00096,"y2":-0.0051}]},"mark":{"type":"rect","color":"#e06a6a","opacity":0.55,"clip":false},
 "encoding":{"x":{"field":"x1","type":"quantitative","scale":{"domain":[-0.3,188.7],"nice":false,"zero":false},"axis":null},"x2":{"field":"x2"},"y":{"field":"y1","type":"quantitative","scale":{"domain":[-0.00379,0.00209],"nice":false,"zero":false},"axis":null},"y2":{"field":"y2"}}},
{"data":{"values":[{"t":"www.instaforex","i":12.0,"v":-0.00437}]},"mark":{"type":"text","color":"white","fontSize":31,"align":"left","baseline":"alphabetic","font":"Liberation Sans"},
 "encoding":{"x":{"field":"i","type":"quantitative","scale":{"domain":[-0.3,188.7],"nice":false,"zero":false},"axis":null},"y":{"field":"v","type":"quantitative","scale":{"domain":[-0.00379,0.00209],"nice":false,"zero":false},"axis":null},"text":{"field":"t"}}},
{"data":{"values":[{"t":".com","i":75.0,"v":-0.00437}]},"mark":{"type":"text","color":"white","fontSize":23,"align":"left","baseline":"alphabetic","font":"Liberation Sans"},
 "encoding":{"x":{"field":"i","type":"quantitative","scale":{"domain":[-0.3,188.7],"nice":false,"zero":false},"axis":null},"y":{"field":"v","type":"quantitative","scale":{"domain":[-0.00379,0.00209],"nice":false,"zero":false},"axis":null},"text":{"field":"t"}}},
{"data":{"values":[{"t":"[","i":4.6,"v":-0.0043},{"t":"]","i":91.5,"v":-0.0043}]},"mark":{"type":"text","color":"white","fontSize":28,"align":"left","baseline":"alphabetic","font":"Liberation Sans"},
 "encoding":{"x":{"field":"i","type":"quantitative","scale":{"domain":[-0.3,188.7],"nice":false,"zero":false},"axis":null},"y":{"field":"v","type":"quantitative","scale":{"domain":[-0.00379,0.00209],"nice":false,"zero":false},"axis":null},"text":{"field":"t"}}}
]
}
]
}
